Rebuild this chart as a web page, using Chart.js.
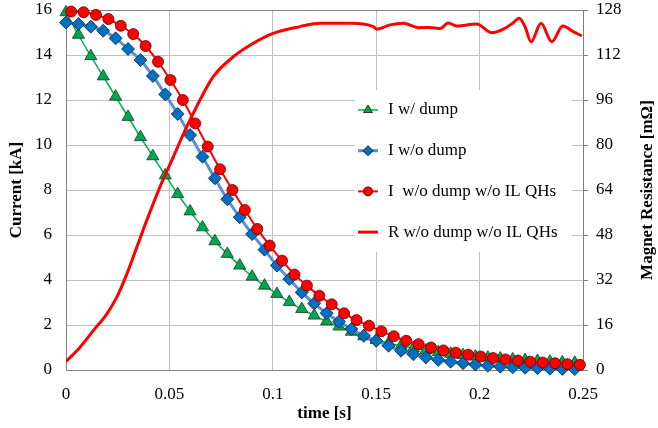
<!DOCTYPE html>
<html>
<head>
<meta charset="utf-8">
<script src="https://cdn.jsdelivr.net/npm/chart.js@4.4.1/dist/chart.umd.min.js"></script>
<style>
  html, body { margin: 0; padding: 0; background: #fff; }
</style>
</head>
<body>
<canvas id="dis" width="658" height="428"></canvas>
<script>
// time points of the current traces [s]
const tDump = [0, 0.006, 0.012, 0.018, 0.024, 0.03, 0.036, 0.042, 0.048, 0.054, 0.06, 0.066, 0.072, 0.078,
  0.084, 0.09, 0.096, 0.102, 0.108, 0.114, 0.12, 0.126, 0.132, 0.138, 0.144, 0.15, 0.156, 0.162, 0.168,
  0.174, 0.18, 0.186, 0.192, 0.198, 0.204, 0.21, 0.216, 0.222, 0.228, 0.234, 0.24, 0.246];
const tNoQH = [0.0025, 0.0085, 0.0145, 0.0205, 0.0265, 0.0325, 0.0385, 0.0445, 0.0505, 0.0565, 0.0625,
  0.0685, 0.0745, 0.0805, 0.0865, 0.0925, 0.0985, 0.1045, 0.1105, 0.1165, 0.1225, 0.1285, 0.1345, 0.1405,
  0.1465, 0.1525, 0.1585, 0.1645, 0.1705, 0.1765, 0.1825, 0.1885, 0.1945, 0.2005, 0.2065, 0.2125, 0.2185,
  0.2245, 0.2305, 0.2365, 0.2425, 0.2485];

// currents [kA]
const iWithDump = [15.9, 14.9, 13.95, 13.05, 12.15, 11.25, 10.35, 9.5, 8.65, 7.82, 7.05, 6.34, 5.72, 5.16,
  4.64, 4.15, 3.75, 3.38, 3.02, 2.71, 2.42, 2.16, 1.93, 1.7, 1.5, 1.33, 1.2, 1.08, 0.97, 0.87, 0.79, 0.72,
  0.66, 0.6, 0.55, 0.51, 0.47, 0.43, 0.4, 0.37, 0.34, 0.32];
const iNoDump = [15.44, 15.38, 15.26, 15.08, 14.74, 14.27, 13.78, 13.07, 12.25, 11.38, 10.44, 9.48, 8.52,
  7.59, 6.79, 6.04, 5.35, 4.64, 4.04, 3.45, 2.96, 2.52, 2.15, 1.82, 1.52, 1.3, 1.08, 0.86, 0.7, 0.56, 0.45,
  0.37, 0.3, 0.24, 0.19, 0.15, 0.12, 0.1, 0.08, 0.06, 0.05, 0.04];
const iNoDumpNoQH = [15.93, 15.9, 15.78, 15.6, 15.3, 14.93, 14.4, 13.7, 12.89, 12.0, 10.96, 9.93, 8.92,
  8.0, 7.11, 6.27, 5.53, 4.86, 4.24, 3.75, 3.3, 2.92, 2.52, 2.22, 1.97, 1.72, 1.5, 1.3, 1.15, 1.0, 0.87,
  0.77, 0.68, 0.6, 0.53, 0.47, 0.42, 0.37, 0.33, 0.3, 0.26, 0.23];

// magnet resistance [mOhm]
const tRes = [0, 0.0068, 0.0132, 0.0197, 0.0245, 0.0294, 0.0342, 0.039, 0.0455, 0.0519, 0.0584, 0.0648,
  0.0712, 0.0809, 0.0906, 0.1002, 0.1132, 0.1228, 0.1373, 0.1486, 0.1502, 0.1567, 0.1631, 0.1704, 0.176,
  0.1809, 0.1849, 0.1889, 0.1986, 0.2059, 0.2115, 0.216, 0.2192, 0.222, 0.2249, 0.2297, 0.2349, 0.2402,
  0.2453, 0.2494];
const rNoDumpNoQH = [3, 8.1, 14, 19.9, 25.8, 34.1, 43.6, 53.1, 65.2, 75.8, 86.5, 96, 104.3, 111.4, 116.2,
  119.7, 122.1, 123.3, 123.3, 122.1, 121.2, 122.7, 123.3, 121.7, 121.8, 121.4, 123.4, 122.3, 123, 119.9,
  121.2, 123.3, 125.1, 122, 116.7, 123.3, 116.7, 122.3, 120.3, 118.8];

const labels = ['I w/ dump', 'I w/o dump', 'I  w/o dump w/o IL QHs', 'R w/o dump w/o IL QHs'];
const xTicks = ['0', '0.05', '0.1', '0.15', '0.2', '0.25'];

const serif = '"Liberation Serif", "Times New Roman", serif';
Chart.defaults.font.family = serif;
Chart.defaults.font.size = 17;
Chart.defaults.color = '#000';

const pts = (xs, ys) => xs.map((x, i) => ({x: x, y: ys[i]}));

function marker(ctx, style, r, x, y) {
  ctx.beginPath();
  if (style === 'triangle') {
    ctx.moveTo(x, y - r);
    ctx.lineTo(x + r * 0.866, y + r * 0.5);
    ctx.lineTo(x - r * 0.866, y + r * 0.5);
    ctx.closePath();
  } else if (style === 'rectRot') {
    ctx.moveTo(x - r, y);
    ctx.lineTo(x, y - r);
    ctx.lineTo(x + r, y);
    ctx.lineTo(x, y + r);
    ctx.closePath();
  } else {
    ctx.arc(x, y, r, 0, Math.PI * 2);
  }
  ctx.fill();
  ctx.stroke();
}

const legendBox = {
  id: 'legendBox',
  afterDatasetsDraw(chart) {
    const ctx = chart.ctx;
    const ca = chart.chartArea;
    const left = ca.left + 289, top = ca.top + 80;
    ctx.save();
    ctx.fillStyle = '#fff';
    ctx.fillRect(left, top, 217, 162);
    const order = [1, 2, 3, 0];
    order.forEach((di, i) => {
      const ds = chart.data.datasets[di];
      const y = top + 20 + i * 40.7;
      ctx.strokeStyle = ds.borderColor;
      ctx.lineWidth = ds.borderWidth;
      ctx.beginPath();
      ctx.moveTo(left + 3, y);
      ctx.lineTo(left + 23, y);
      ctx.stroke();
      if (ds.pointRadius > 0) {
        ctx.fillStyle = ds.pointBackgroundColor;
        ctx.strokeStyle = ds.pointBorderColor;
        ctx.lineWidth = 1;
        marker(ctx, ds.pointStyle, ds.pointStyle === 'circle' ? 4.5 : 5, left + 13, y);
      }
      ctx.fillStyle = '#000';
      ctx.font = '17px ' + serif;
      ctx.textBaseline = 'middle';
      ctx.textAlign = 'left';
      ctx.fillText(ds.label, left + 33, y);
    });
    ctx.restore();
  },
  afterDraw(chart) {
    const ctx = chart.ctx;
    ctx.save();
    ctx.translate(648, (chart.chartArea.top + chart.chartArea.bottom) / 2);
    ctx.rotate(-Math.PI / 2);
    ctx.font = 'bold 17px ' + serif;
    ctx.fillStyle = '#000';
    ctx.textAlign = 'center';
    ctx.textBaseline = 'middle';
    ctx.fillText('Magnet Resistance [m\u03A9]', 0, 0);
    ctx.restore();
  }
};

function fixVertical(w) {
  return (s) => {
    s.width = w;
    s.paddingTop = 0;
    s.paddingBottom = 0;
  };
}

window.onload = function() {
  const ctx = document.querySelector('#dis');

  new Chart(ctx, {
    type: 'line',
    data: {
      datasets: [
        {
          label: labels[3],
          data: pts(tRes, rNoDumpNoQH),
          yAxisID: 'y2',
          borderColor: '#ff0000',
          borderWidth: 3,
          pointRadius: 0,
          cubicInterpolationMode: 'monotone',
          order: 0
        },
        {
          label: labels[0],
          data: pts(tDump, iWithDump),
          yAxisID: 'y',
          borderColor: '#00b050',
          borderWidth: 1.5,
          pointStyle: 'triangle',
          pointRadius: 7,
          pointBackgroundColor: '#00a651',
          pointBorderColor: '#1a3a1a',
          pointBorderWidth: 0.8,
          tension: 0.3,
          clip: false,
          order: 3
        },
        {
          label: labels[1],
          data: pts(tDump, iNoDump),
          yAxisID: 'y',
          borderColor: '#5b8ed6',
          borderWidth: 3,
          pointStyle: 'rectRot',
          pointRadius: 6.5,
          pointBackgroundColor: '#0070c0',
          pointBorderColor: '#10253f',
          pointBorderWidth: 0.8,
          tension: 0.3,
          clip: false,
          order: 2
        },
        {
          label: labels[2],
          data: pts(tNoQH, iNoDumpNoQH),
          yAxisID: 'y',
          borderColor: '#ff0000',
          borderWidth: 2,
          pointStyle: 'circle',
          pointRadius: 5.5,
          pointBackgroundColor: '#ff0000',
          pointBorderColor: '#600000',
          pointBorderWidth: 0.8,
          tension: 0.3,
          clip: false,
          order: 1
        }
      ]
    },
    options: {
      responsive: false,
      animation: false,
      devicePixelRatio: 1,
      layout: { padding: { top: 10, left: 0, right: 0, bottom: 0 } },
      plugins: { legend: { display: false }, tooltip: { enabled: false } },
      scales: {
        x: {
          type: 'linear',
          min: 0,
          max: 0.25,
          ticks: {
            stepSize: 0.05,
            padding: 14,
            maxRotation: 0,
            callback: (v, i) => xTicks[i]
          },
          grid: { color: '#c0c0c0', drawTicks: false },
          border: { color: '#808080' },
          title: { display: true, text: 'time [s]', font: { weight: 'bold', size: 17 }, padding: { top: 0, bottom: 4 } },
          afterFit: (s) => { s.height = 58; s.paddingLeft = 0; s.paddingRight = 0; }
        },
        y: {
          position: 'left',
          min: 0,
          max: 16,
          ticks: { stepSize: 2, padding: 14 },
          grid: { color: (c) => c.tick && c.tick.value === 16 ? '#808080' : '#c0c0c0', drawTicks: false },
          border: { color: '#808080' },
          title: { display: true, text: 'Current [kA]', font: { weight: 'bold', size: 17 }, padding: { top: 6, bottom: 0 } },
          afterFit: fixVertical(66)
        },
        y2: {
          position: 'right',
          min: 0,
          max: 128,
          ticks: { stepSize: 16, padding: 8 },
          grid: { drawOnChartArea: false, drawTicks: true, tickLength: 5, color: '#808080' },
          border: { color: '#808080' },
          afterFit: fixVertical(75)
        }
      }
    },
    plugins: [legendBox]
  });
};
</script>
</body>
</html>
